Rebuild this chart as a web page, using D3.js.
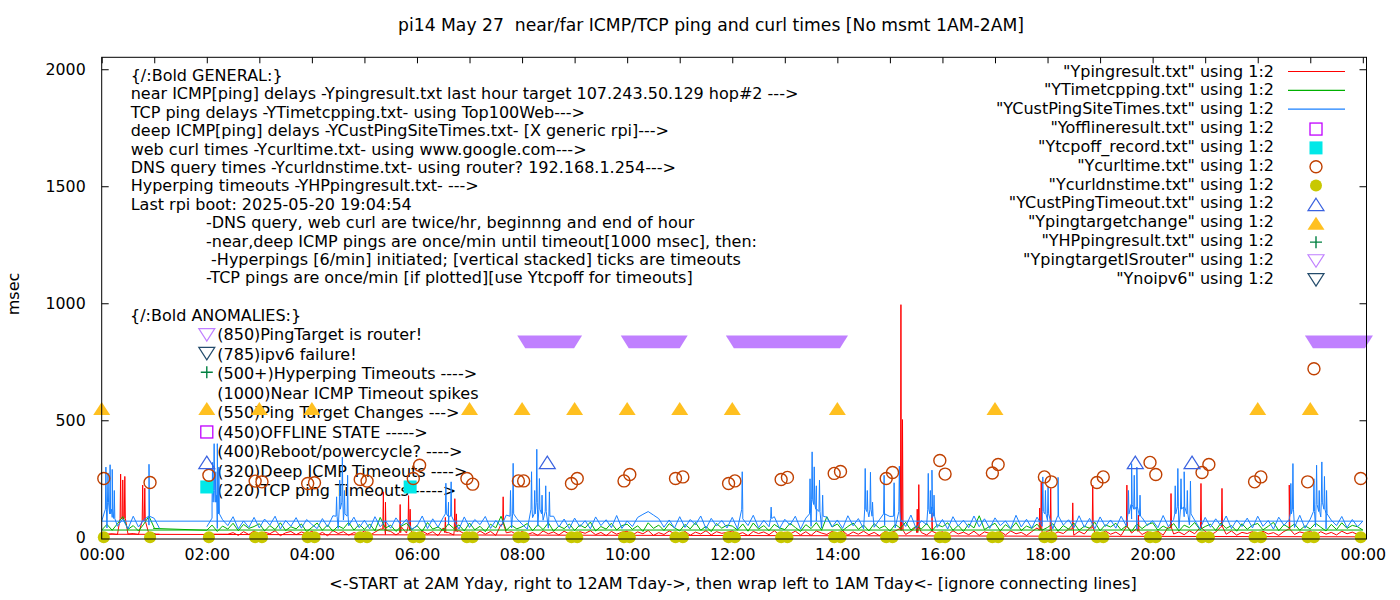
<!DOCTYPE html>
<html>
<head>
<meta charset="utf-8">
<script src="https://cdn.jsdelivr.net/npm/d3@7"></script>
<style>
  body { margin: 0; background: #fff; }
  text { font-family: "DejaVu Sans", sans-serif; white-space: pre; }
</style>
</head>
<body>
<svg id="chart" width="1400" height="600"></svg>
<script>
// ---- data (hours of day, msec) ----
// line series sampled every 0.1h: "day" part runs 2:00 -> 24:00, "night" part 0:00 -> ~1:00
var dayStart = 2.0, nightStart = 0.0, step = 0.1;

var pingDay = [
  13,13,13,13,13,20,8,24,12,27,    9,22,15,28,7,19,25,11,23,14,
  26,10,21,6,29,16,24,9,20,13,     27,8,22,35,12,25,10,45,18,23,
  11,26,14,24,7,40,20,10,28,15,    22,9,27,13,25,8,55,19,24,11,
  25,12,20,8,27,15,23,10,26,14,    9,24,17,28,11,21,7,25,13,22,
  26,10,23,15,29,8,20,12,27,16,    11,25,9,22,14,28,10,24,17,21,
  27,13,20,7,25,16,23,11,28,9,     22,14,26,10,24,8,27,18,12,25,
  15,28,9,23,13,26,11,21,7,24,     19,27,38,12,25,45,20,10,35,16,
  24,9,28,14,22,11,26,8,23,17,     12,25,10,27,15,21,8,24,40,13,
  26,11,23,16,35,9,25,14,40,20,    10,27,13,22,8,45,18,38,12,24,
  16,26,9,45,14,23,11,28,15,40,    25,10,22,45,13,27,9,21,16,24,
  11,26,14,20,8,25,35,12,23,17,    27,9,24,13,21,10,26,15,22,12,
  2
];
var pingNight = [13,13,15,12,80,14,16,12,70,13,13,13];
// spikes: [hour, peak, level just before/after]
var pingSpikes = [
  [0.36,270,80],[0.40,245,80],[0.44,260,80],[0.78,223,70],[0.82,210,70],
  [5.36,194,35],[5.40,150,30],[5.68,140,20],[5.84,178,45],[5.87,120,30],[6.54,85,20],
  [6.72,165,30],[6.75,100,25],[7.64,173,55],
  [15.21,994,30],[15.24,503,30],[15.52,120,20],[15.55,225,40],[15.80,105,25],
  [17.85,125,30],[17.88,234,40],[18.06,209,30],[18.48,147,35],[18.86,223,40],
  [19.51,223,45],[19.73,95,25],[20.35,187,40],[20.92,230,40],[21.32,209,45],[22.60,223,35]
];

var tcpLead = [[0.98,38]];
var tcpDay = [
  30,52,25,48,35,60,28,55,38,46,   58,27,50,33,62,29,45,36,57,24,
  42,61,30,53,26,49,37,64,31,55,   34,57,28,85,39,52,25,47,60,33,
  50,26,63,35,44,29,58,38,53,27,   61,32,47,24,56,40,90,30,51,36,
  45,59,28,54,33,62,26,48,37,57,   29,53,40,65,27,46,35,60,31,50,
  56,34,49,25,62,38,52,29,58,41,   27,55,36,63,30,47,24,59,39,52,
  48,31,57,26,61,35,50,28,55,40,   33,60,42,25,54,37,63,30,88,44,
  57,29,46,61,34,52,27,58,38,49,   26,55,39,64,31,48,36,59,28,53,
  45,62,30,51,25,57,40,92,33,47,   60,27,54,36,63,29,48,38,56,31,
  42,58,26,50,35,61,30,47,39,64,   28,53,44,60,32,49,25,57,37,55,
  62,30,48,35,59,27,52,41,63,33,   46,56,29,61,38,50,26,58,34,52,
  59,32,47,64,28,54,40,57,30,49,   36,60,43,27,55,33,62,38,51,45,
  31
];
var tcpNight = [31,55,30,58,88,34,50,27,56,90,40];

var custDay = [
  45,82,38,75,50,88,36,70,42,85,   40,78,52,90,35,72,47,84,39,76,
  55,37,80,44,92,38,74,49,86,41,   73,36,88,45,70,39,83,51,77,34,
  48,91,37,79,43,85,52,71,35,87,   42,76,54,89,38,72,46,95,40,80,
  56,35,84,47,73,39,90,44,78,37,   82,45,71,36,87,50,75,41,93,38,
  70,46,85,98,110,95,80,43,74,39,  88,42,76,53,91,37,81,48,72,40,
  85,36,79,50,94,41,73,45,88,38,   77,52,90,35,82,47,70,39,86,44,
  74,38,92,49,80,36,87,43,75,51,   89,40,78,46,95,37,71,54,84,42,
  76,35,88,48,73,41,91,45,79,38,   83,50,70,37,94,44,77,39,86,47,
  72,36,89,52,75,40,92,43,81,37,   87,46,74,39,90,48,78,35,84,50,
  71,41,93,45,76,38,88,53,73,36,   85,43,79,49,91,37,74,46,82,40,
  90,47,72,35,86,51,77,42,94,39,   78,44,87,36,73,50,89,41,76,45,
  69
];
var custNight = [69,40,85,47,78,36,90,44,74,52,81,38];
var custSpikes = [
  [0.08,300,120],[0.12,275,150],[0.16,310,100],[0.20,290,120],[0.24,200,80],[0.90,312,90],
  [2.11,320,150],[2.14,400,200],[2.17,280,150],[2.20,400,180],[2.23,300,100],
  [4.47,173,90],[4.53,244,120],[4.58,343,150],[4.62,200,100],[4.68,265,90],
  [6.55,231,100],[6.60,150,90],[6.65,237,90],[7.78,200,90],[7.83,316,100],
  [8.18,280,120],[8.24,200,100],[8.28,376,150],[8.33,251,120],[8.38,180,100],[8.45,220,110],[8.52,194,90],
  [12.19,280,120],[12.74,129,80],
  [13.48,250,100],[13.52,365,160],[13.56,301,140],[13.60,220,120],[13.66,244,110],[13.72,180,90],
  [14.53,294,120],[14.57,200,110],[14.63,278,120],[14.67,150,90],[14.89,265,100],[15.08,233,90],[15.18,304,110],
  [15.73,273,120],[15.77,200,100],[15.80,287,130],[15.84,180,90],
  [17.91,258,110],[17.96,200,100],[18.01,216,100],[18.20,256,90],
  [19.54,200,100],[19.60,315,140],[19.65,265,120],[19.70,300,130],[19.76,180,90],
  [20.43,220,100],[20.48,294,130],[20.54,250,120],[20.60,280,130],[20.66,200,100],[20.72,240,100],
  [22.63,230,100],[22.67,315,120],
  [23.07,250,110],[23.12,308,140],[23.17,200,110],[23.22,322,150],[23.27,260,120],[23.31,200,100]
];

// point series
var offline = [[2.0,450]];
var tcpOff = [[2.0,215],[5.87,215]];
var curlTime = [
  [0.04,251],[0.92,234],[2.04,265],[2.92,240],[3.05,237],[3.92,230],[4.05,233],
  [4.92,247],[5.05,240],[5.93,251],[6.05,308],[6.95,251],[7.06,227],[7.93,241],
  [8.03,241],[8.94,230],[9.05,251],[9.94,241],[10.05,268],[10.92,251],[11.06,258],
  [11.93,230],[12.05,241],[12.93,247],[13.05,256],[13.94,273],[14.06,281],[14.93,251],
  [15.05,277],[15.95,328],[16.05,270],[16.95,275],[17.06,311],[17.94,258],[18.07,237],
  [18.94,234],[19.06,258],[19.95,320],[20.06,268],[20.94,277],[21.07,311],[21.94,237],
  [22.06,258],[22.95,237],[23.07,720],[23.96,251]
];
var dnsTime = curlTime.map(function(d) { return [d[0], 0]; });
var custTimeout = [[2.0,320],[8.48,320],[19.67,320],[20.75,320]];
var targetChange = [0,2,3,4,7,8,9,10,11,12,14,17,22,23].map(function(h) { return [h, 550]; });
var hpPing = [[2.0,705]];
var isRouter = [[2.0,865]];
var isRouterSpans = [[8.06,8.99],[10.03,11.0],[12.03,14.05],[23.05,24.04]];
var isRouterLevel = 835;
var noIpv6 = [[2.0,785]];

var yTicks = [0, 500, 1000, 1500, 2000];
var hourTicks = d3.range(0, 25, 1);

var titleText = "pi14 May 27  near/far ICMP/TCP ping and curl times [No msmt 1AM-2AM]";
var xLabel = "<-START at 2AM Yday, right to 12AM Tday->, then wrap left to 1AM Tday<- [ignore connecting lines]";
var yLabel = "msec";

var generalLines = [
  "{/:Bold GENERAL:}",
  "near ICMP[ping] delays -Ypingresult.txt last hour target 107.243.50.129 hop#2 --->",
  "TCP ping delays -YTimetcpping.txt- using Top100Web--->",
  "deep ICMP[ping] delays -YCustPingSiteTimes.txt- [X generic rpi]--->",
  "web curl times -Ycurltime.txt- using www.google.com--->",
  "DNS query times -Ycurldnstime.txt- using router? 192.168.1.254--->",
  "Hyperping timeouts -YHPpingresult.txt- --->",
  "Last rpi boot: 2025-05-20 19:04:54",
  "-DNS query, web curl are twice/hr, beginnng and end of hour",
  "-near,deep ICMP pings are once/min until timeout[1000 msec], then:",
  " -Hyperpings [6/min] initiated; [vertical stacked] ticks are timeouts",
  "-TCP pings are once/min [if plotted][use Ytcpoff for timeouts]"
];
var anomalyLines = [
  "{/:Bold ANOMALIES:}",
  "(850)PingTarget is router!",
  "(785)ipv6 failure!",
  "(500+)Hyperping Timeouts ---->",
  "(1000)Near ICMP Timeout spikes",
  "(550)Ping Target Changes --->",
  "(450)OFFLINE STATE ----->",
  "(400)Reboot/powercycle? ---->",
  "(320)Deep ICMP Timeouts ---->",
  "(220)TCP ping Timeouts ----->"
];

var legendNames = [
  '"Ypingresult.txt" using 1:2',
  '"YTimetcpping.txt" using 1:2',
  '"YCustPingSiteTimes.txt" using 1:2',
  '"Yofflineresult.txt" using 1:2',
  '"Ytcpoff_record.txt" using 1:2',
  '"Ycurltime.txt" using 1:2',
  '"Ycurldnstime.txt" using 1:2',
  '"YCustPingTimeout.txt" using 1:2',
  '"Ypingtargetchange" using 1:2',
  '"YHPpingresult.txt" using 1:2',
  '"YpingtargetISrouter" using 1:2',
  '"Ynoipv6" using 1:2'
];
var legendKinds = ["line","line","line","sqOpen","sqFill","circle","dot","triUp","triUpFill","plus","triDown","triDown"];

// ---- colours ----
var col = {
  ping: "#ff0000", tcp: "#00b000", cust: "#1a80ff",
  offline: "#c000ff", tcpOff: "#00e8e8", curl: "#c04000", dns: "#c8c800",
  custTimeout: "#3a62e0", target: "#ffc020", hp: "#008040", router: "#c080ff", ipv6: "#244c6c"
};
var legendColors = [col.ping, col.tcp, col.cust, col.offline, col.tcpOff, col.curl, col.dns,
  col.custTimeout, col.target, col.hp, col.router, col.ipv6];

// ---- layout (plot frame in page pixels) ----
var svg = d3.select("#chart");
var plotL = 101.7, plotR = 1366.5, plotT = 57.3, plotB = 539;
var fontSize = "16px";

var x = d3.scaleLinear().domain([0, 24.07]).range([plotL, plotR]);
var y = d3.scaleLinear().domain([-7.3, 2051]).range([plotB, plotT]);

svg.append("defs").append("clipPath").attr("id", "plotclip")
  .append("rect").attr("x", plotL).attr("y", plotT).attr("width", plotR - plotL).attr("height", plotB - plotT);

// title and axis labels
svg.append("text").attr("x", 711).attr("y", 31).attr("text-anchor", "middle")
  .style("font-size", "17.2px").text(titleText);
svg.append("text").attr("x", 733).attr("y", 589).attr("text-anchor", "middle")
  .style("font-size", fontSize).text(xLabel);
svg.append("text").attr("transform", "translate(19,294) rotate(-90)").attr("text-anchor", "middle")
  .style("font-size", fontSize).text(yLabel);

// axes, ticks pointing inward like gnuplot
function hourLabel(h) {
  if (h % 2) return "";
  var hh = h % 24;
  return (hh < 10 ? "0" : "") + hh + ":00";
}
svg.append("g").attr("transform", "translate(0," + plotB + ")")
  .call(d3.axisBottom(x).tickValues(hourTicks).tickFormat(hourLabel).tickSize(-6).tickPadding(10));
svg.append("g").attr("transform", "translate(0," + plotT + ")")
  .call(d3.axisTop(x).tickValues(hourTicks).tickFormat("").tickSize(-6));
svg.append("g").attr("transform", "translate(" + plotL + ",0)")
  .call(d3.axisLeft(y).tickValues(yTicks).tickFormat(d3.format("d")).tickSize(-7).tickPadding(16));
svg.append("g").attr("transform", "translate(" + plotR + ",0)")
  .call(d3.axisRight(y).tickValues(yTicks).tickFormat("").tickSize(-7));
svg.selectAll(".domain").remove();
svg.selectAll(".tick text").style("font-family", "DejaVu Sans").style("font-size", "15.8px").attr("fill", "#000");
svg.selectAll(".tick line").attr("stroke", "#000");

// labels sit behind the data
var general = svg.append("g").style("font-size", fontSize);
general.selectAll("text").data(generalLines).enter().append("text")
  .attr("x", function(d, i) { return i < 8 ? 130.7 : 206; })
  .attr("y", function(d, i) { return 81 + i * 18.4; })
  .text(function(d) { return d; });

var anomalies = svg.append("g").style("font-size", fontSize);
anomalies.selectAll("text").data(anomalyLines).enter().append("text")
  .attr("x", function(d, i) { return i === 0 ? 130 : 217.3; })
  .attr("y", function(d, i) { return 320.5 + i * 19.5; })
  .text(function(d) { return d; });

// ---- build line series in file order: day part, then wrap to night part ----
var spikeHalf = 0.01; // the minute samples either side of a spike
function buildSeries(dayVals, nightVals, spikes, lead) {
  var day = dayVals.map(function(v, i) { return [dayStart + i * step, v]; });
  var night = nightVals.map(function(v, i) { return [nightStart + i * step, v]; });
  spikes.forEach(function(s) {
    var part = s[0] >= dayStart ? day : night;
    part.push([s[0] - spikeHalf, s[2]], [s[0], s[1]], [s[0] + spikeHalf, s[2]]);
  });
  day.sort(function(a, b) { return a[0] - b[0]; });
  night.sort(function(a, b) { return a[0] - b[0]; });
  return (lead || []).concat(day, night);
}

var line = d3.line()
  .x(function(d) { return x(d[0]); })
  .y(function(d) { return y(d[1]); });

var lines = svg.append("g").attr("clip-path", "url(#plotclip)");
[
  [buildSeries(pingDay, pingNight, pingSpikes), col.ping],
  [buildSeries(tcpDay, tcpNight, [], tcpLead), col.tcp],
  [buildSeries(custDay, custNight, custSpikes), col.cust]
].forEach(function(s) {
  lines.append("path").datum(s[0])
    .attr("d", line)
    .attr("fill", "none")
    .attr("stroke", s[1])
    .attr("stroke-width", 1);
});

// ---- point markers ----
function triPath(w, h, down) {
  var s = down ? -1 : 1;
  return "M0," + (-s * h / 2) + "L" + (w / 2) + "," + (s * h / 2) + "L" + (-w / 2) + "," + (s * h / 2) + "Z";
}
function drawMarker(g, kind, color) {
  if (kind === "sqOpen") {
    g.append("rect").attr("x", -6).attr("y", -6).attr("width", 12).attr("height", 12)
      .attr("fill", "none").attr("stroke", color).attr("stroke-width", 1.3);
  } else if (kind === "sqFill") {
    g.append("rect").attr("x", -6.5).attr("y", -6.5).attr("width", 13).attr("height", 13).attr("fill", color);
  } else if (kind === "circle") {
    g.append("circle").attr("r", 6).attr("fill", "none").attr("stroke", color).attr("stroke-width", 1.4);
  } else if (kind === "dot") {
    g.append("circle").attr("r", 6).attr("fill", color);
  } else if (kind === "triUp") {
    g.append("path").attr("d", triPath(16, 12.5, false)).attr("fill", "none").attr("stroke", color).attr("stroke-width", 1.2);
  } else if (kind === "triUpFill") {
    g.append("path").attr("d", triPath(17, 13, false)).attr("fill", color);
  } else if (kind === "plus") {
    g.append("path").attr("d", "M-6,0H6M0,-6V6").attr("stroke", color).attr("stroke-width", 1.4);
  } else if (kind === "triDown") {
    g.append("path").attr("d", triPath(16, 12.5, true)).attr("fill", "none").attr("stroke", color).attr("stroke-width", 1.2);
  }
}
function drawPoints(data, kind, color) {
  svg.append("g").selectAll("g").data(data).enter().append("g")
    .attr("transform", function(d) { return "translate(" + x(d[0]) + "," + y(d[1]) + ")"; })
    .each(function() { drawMarker(d3.select(this), kind, color); });
}

drawPoints(offline, "sqOpen", col.offline);
drawPoints(tcpOff, "sqFill", col.tcpOff);
drawPoints(curlTime, "circle", col.curl);
drawPoints(dnsTime, "dot", col.dns);
drawPoints(custTimeout, "triUp", col.custTimeout);
drawPoints(targetChange, "triUpFill", col.target);
drawPoints(hpPing, "plus", col.hp);
drawPoints(isRouter, "triDown", col.router);

// once-a-minute router triangles overlap into solid bands
svg.append("g").selectAll("path").data(isRouterSpans).enter().append("path")
  .attr("d", function(d) {
    var x0 = x(d[0]), x1 = x(d[1]), yc = y(isRouterLevel);
    return "M" + (x0 - 8) + "," + (yc - 6.3) + "L" + (x1 + 8) + "," + (yc - 6.3) +
      "L" + x1 + "," + (yc + 6.3) + "L" + x0 + "," + (yc + 6.3) + "Z";
  })
  .attr("fill", col.router);

drawPoints(noIpv6, "triDown", col.ipv6);

// frame
svg.append("rect").attr("x", plotL).attr("y", plotT).attr("width", plotR - plotL).attr("height", plotB - plotT)
  .attr("fill", "none").attr("stroke", "#000").attr("stroke-width", 1);

// ---- legend ----
var legend = svg.append("g");
legendNames.forEach(function(name, i) {
  var yc = 71 + i * 18.85;
  legend.append("text").attr("x", 1274).attr("y", yc + 5.5).attr("text-anchor", "end")
    .style("font-size", fontSize).text(name);
  if (legendKinds[i] === "line") {
    legend.append("line").attr("x1", 1288).attr("x2", 1345).attr("y1", yc + 0.5).attr("y2", yc + 0.5)
      .attr("stroke", legendColors[i]).attr("stroke-width", 1.2);
  } else {
    var g = legend.append("g").attr("transform", "translate(1316," + (yc + 1.5) + ")");
    drawMarker(g, legendKinds[i], legendColors[i]);
  }
});
</script>
</body>
</html>
